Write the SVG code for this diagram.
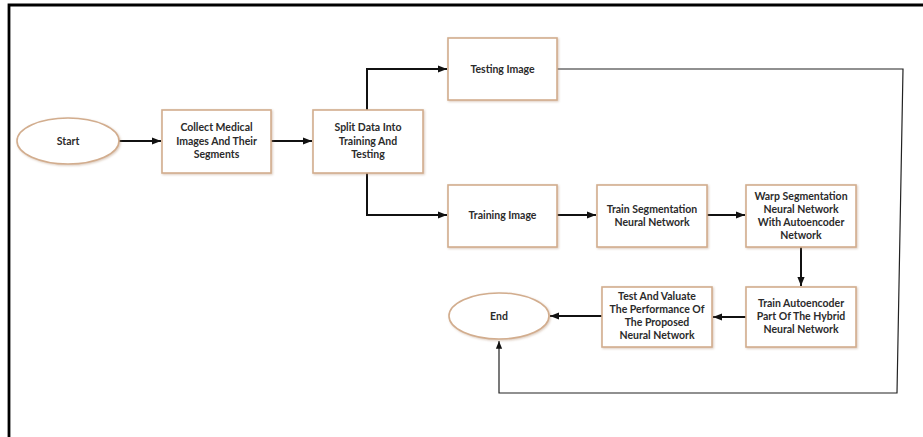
<svg xmlns="http://www.w3.org/2000/svg" width="923" height="437" viewBox="0 0 923 437">
<defs>
<style>
.box{fill:#ffffff;stroke:#d2ad8e;stroke-width:1.6;filter:url(#sh)}
.lbl{font-family:Lato,"Liberation Sans",sans-serif;font-weight:bold;font-size:10.5px;fill:#2b2b2b;text-anchor:middle}
.con{fill:none;stroke:#111111;stroke-width:2}
.thin{fill:none;stroke:#222222;stroke-width:1.2}
</style>
<filter id="sh" x="-20%" y="-20%" width="140%" height="140%">
<feDropShadow dx="1" dy="1" stdDeviation="1.2" flood-color="#b08a6a" flood-opacity="0.45"/>
</filter>
<marker id="ah" viewBox="0 0 10 10" refX="10" refY="5" markerWidth="4.5" markerHeight="4.5" orient="auto" markerUnits="strokeWidth">
<path d="M0,1 L10,5 L0,9 z" fill="#111111"/>
</marker>
<marker id="ah2" viewBox="0 0 10 10" refX="10" refY="5" markerWidth="6.5" markerHeight="6.5" orient="auto" markerUnits="strokeWidth">
<path d="M0,1 L10,5 L0,9 z" fill="#111111"/>
</marker>
</defs>
<rect width="923" height="437" fill="#ffffff"/>
<path d="M925,5 H9 V440" fill="none" stroke="#000000" stroke-width="2.8"/>

<g id="connectors">
<path class="con" d="M118,141 H161" marker-end="url(#ah)"/>
<path class="con" d="M271,141 H312" marker-end="url(#ah)"/>
<path class="con" d="M367,110 V69 H447" marker-end="url(#ah)"/>
<path class="con" d="M367,173 V215 H447" marker-end="url(#ah)"/>
<path class="con" d="M557,215 H596" marker-end="url(#ah)"/>
<path class="con" d="M707,215 H745" marker-end="url(#ah)"/>
<path class="con" d="M801,247 V286" marker-end="url(#ah)"/>
<path class="con" d="M746,317 H713" marker-end="url(#ah)"/>
<path class="con" d="M602,316 H550" marker-end="url(#ah)"/>
<path class="thin" d="M557,69 H903 L897,393 H499 V341" marker-end="url(#ah2)"/>
</g>

<g id="start">
<ellipse class="box" cx="68" cy="141" rx="51" ry="23"/>
<text class="lbl" x="68" y="145">Start</text>
</g>
<g id="collect">
<rect class="box" x="162" y="110" width="109" height="63"/>
<text class="lbl" x="216.5" y="131">Collect Medical</text>
<text class="lbl" x="216.5" y="145">Images And Their</text>
<text class="lbl" x="216.5" y="158">Segments</text>
</g>
<g id="split">
<rect class="box" x="313" y="110" width="110" height="63"/>
<text class="lbl" x="368" y="131">Split Data Into</text>
<text class="lbl" x="368" y="145">Training And</text>
<text class="lbl" x="368" y="158">Testing</text>
</g>
<g id="testing">
<rect class="box" x="448" y="38" width="109" height="62"/>
<text class="lbl" x="502.5" y="73">Testing Image</text>
</g>
<g id="training">
<rect class="box" x="448" y="185" width="109" height="62"/>
<text class="lbl" x="502.5" y="219">Training Image</text>
</g>
<g id="trainseg">
<rect class="box" x="597" y="185" width="110" height="62"/>
<text class="lbl" x="652" y="213">Train Segmentation</text>
<text class="lbl" x="652" y="226">Neural Network</text>
</g>
<g id="warp">
<rect class="box" x="746" y="185" width="110" height="62"/>
<text class="lbl" x="801" y="200">Warp Segmentation</text>
<text class="lbl" x="801" y="213">Neural Network</text>
<text class="lbl" x="801" y="226">With Autoencoder</text>
<text class="lbl" x="801" y="239">Network</text>
</g>
<g id="trainauto">
<rect class="box" x="746" y="287" width="110" height="60"/>
<text class="lbl" x="801" y="307">Train Autoencoder</text>
<text class="lbl" x="801" y="320">Part Of The Hybrid</text>
<text class="lbl" x="801" y="333">Neural Network</text>
</g>
<g id="testeval">
<rect class="box" x="602" y="287" width="110" height="60"/>
<text class="lbl" x="657" y="300">Test And Valuate</text>
<text class="lbl" x="657" y="313">The Performance Of</text>
<text class="lbl" x="657" y="326">The Proposed</text>
<text class="lbl" x="657" y="339">Neural Network</text>
</g>
<g id="end">
<ellipse class="box" cx="499" cy="316" rx="50" ry="23"/>
<text class="lbl" x="499" y="320">End</text>
</g>
</svg>
